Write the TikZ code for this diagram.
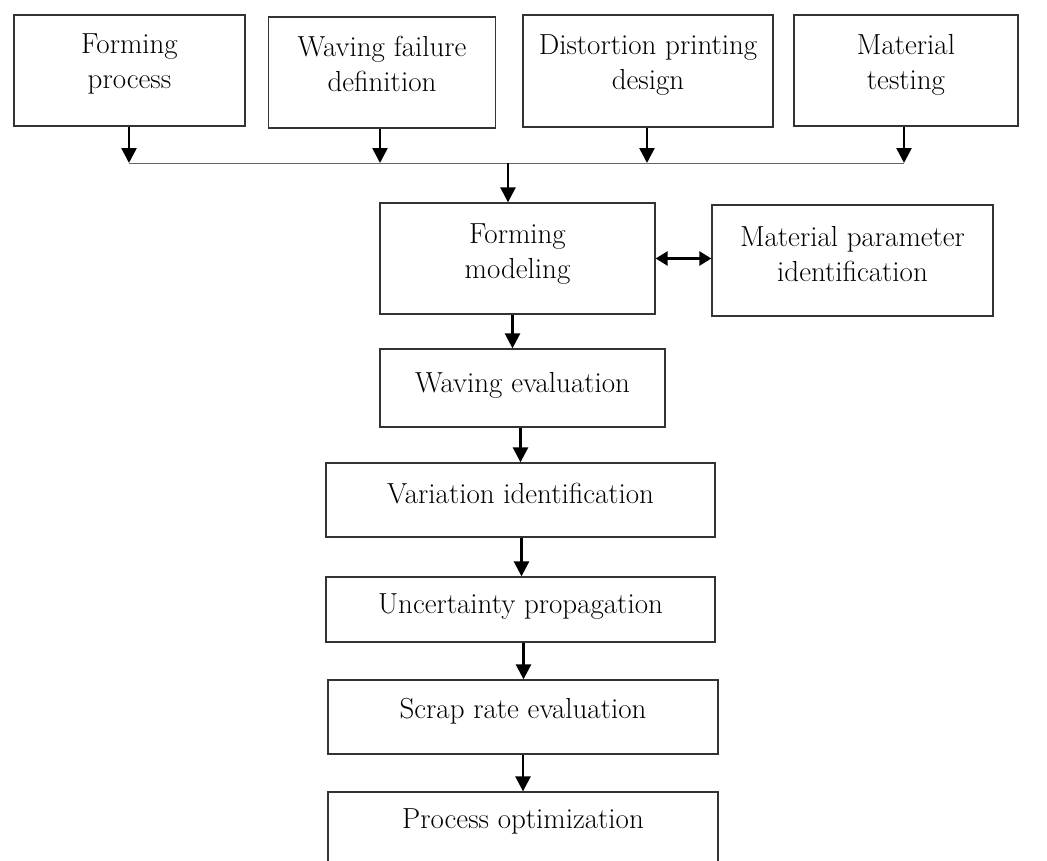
\documentclass[tikz,border=0pt]{standalone}
\usetikzlibrary{arrows.meta,calc}
\begin{document}
\begin{tikzpicture}[x=1pt,y=-1pt,
  box/.style={draw=black!80,line width=1.3pt,fill=white,align=center,inner sep=0pt,
    font=\fontsize{29}{35}\selectfont},
  flow/.style={line width=2.6pt,-{Triangle[length=15pt,width=15pt]}},
  dflow/.style={line width=2.6pt,{Triangle[length=12pt,width=14pt]}-{Triangle[length=12pt,width=14pt]}},
  bus/.style={draw=black!60,line width=1pt}]
\useasboundingbox (0,0) rectangle (1047,860);
\begin{scope}
\clip (0,0) rectangle (1047,860);
\node[box,text depth=18pt,minimum width=231pt,minimum height=111pt] (b1) at (129.5,70.5) {Forming\\process};
\node[box,text depth=18pt,minimum width=227pt,minimum height=111pt] (b2) at (382,72.5) {Waving failure\\definition};
\node[box,text depth=18pt,minimum width=250pt,minimum height=112pt] (b3) at (648,71) {Distortion printing\\design};
\node[box,text depth=18pt,minimum width=224pt,minimum height=111pt] (b4) at (906,70.5) {Material\\testing};
\node[box,text depth=14pt,minimum width=275pt,minimum height=111pt] (fm) at (517.5,258.5) {Forming\\modeling};
\node[box,text depth=14pt,minimum width=281pt,minimum height=111pt] (mp) at (852.5,260.5) {Material parameter\\identification};
\node[box,text depth=12pt,minimum width=285pt,minimum height=78pt] (we) at (522.5,388) {Waving evaluation};
\node[box,text depth=14pt,minimum width=389pt,minimum height=74pt] (vi) at (520.5,500) {Variation identification};
\node[box,text depth=12pt,minimum width=389pt,minimum height=65pt] (up) at (520.5,609.5) {Uncertainty propagation};
\node[box,text depth=18pt,minimum width=390pt,minimum height=74pt] (sr) at (523,717) {Scrap rate evaluation};
\node[box,text depth=26pt,minimum width=390pt,minimum height=80pt] (po) at (523,832) {Process optimization};
\end{scope}
\coordinate (bl) at (129,163);
\coordinate (br) at (904,163);
\coordinate (j) at (508,163);
\coordinate (a2) at ($(b2.south)+(-2,0)$);
\coordinate (a3) at ($(b3.south)+(-1,0)$);
\coordinate (a5) at ($(fm.south)+(-5,0)$);
\coordinate (a6) at ($(we.south)+(-2,0)$);
\coordinate (a7) at ($(vi.south)+(1,0)$);
\coordinate (a8) at ($(up.south)+(3,0)$);
\draw[bus] (bl) -- (br);
\draw[flow] (b1.south -| bl) -- (bl);
\draw[flow] (a2) -- (a2 |- bl);
\draw[flow] (a3) -- (a3 |- bl);
\draw[flow] (b4.south -| br) -- (br);
\draw[flow] (j) -- (j |- fm.north);
\draw[dflow] (fm.east) -- (fm.east -| mp.west);
\draw[flow] (a5) -- (a5 |- we.north);
\draw[flow] (a6) -- (a6 |- vi.north);
\draw[flow] (a7) -- (a7 |- up.north);
\draw[flow] (a8) -- (a8 |- sr.north);
\draw[flow] (sr.south) -- (po.north);
\end{tikzpicture}
\end{document}
